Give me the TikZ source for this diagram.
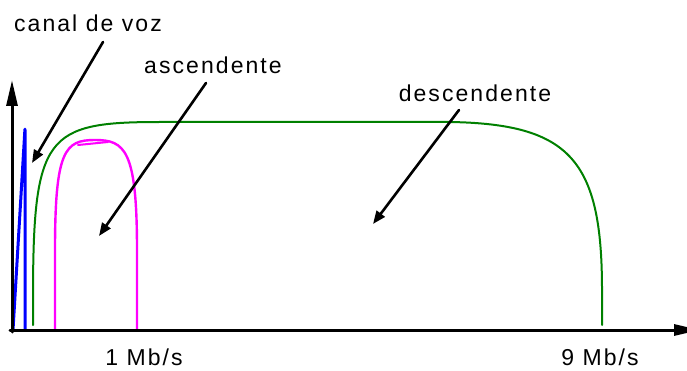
\documentclass[tikz,border=0pt]{standalone}
\usepackage{fontspec}
\setmainfont{Liberation Sans}[LetterSpace=9]
\usetikzlibrary{arrows.meta}
\definecolor{vozblue}{RGB}{0,0,255}
\definecolor{upmag}{RGB}{255,0,255}
\definecolor{downgreen}{RGB}{0,128,0}

\begin{document}
\begin{tikzpicture}[x=1pt, y=-1pt, line cap=round, line join=round,
    font=\fontsize{23}{27}\selectfont,
    lbl/.style={anchor=base, inner sep=0pt},
    axis/.style={line width=3pt, -{Triangle[length=26pt, width=11pt]}},
    pointer/.style={line width=2.6pt, -{Triangle[length=13pt, width=10pt]}}]

  %% ---- page ----
  \useasboundingbox (0,0) rectangle (687,371);

  %% ---- spectra ----
  \draw[vozblue, line width=3pt, rounded corners=2pt]
    (13,330) -- (25,128) -- (25,330);
  \draw[downgreen, line width=2pt]
    (33,325) -- (33,300) .. controls (33,135) and (45,122) .. (160,122)
    -- (450,122) .. controls (570,124) and (602,160) .. (602,290) -- (602,325);
  \draw[upmag, line width=2.4pt]
    (55,330) -- (55,250) .. controls (55,150) and (65,140) .. (95,140)
    .. controls (125,140) and (137,150) .. (137,250) -- (137,330);
  \draw[upmag, line width=2pt] (78,145) -- (108,142);

  %% ---- axes ----
  \draw[axis] (12,332) -- (12,80);
  \draw[axis] (10,330) -- (700,330);

  %% ---- labels ----
  \node[lbl] (voz)  at (88,32)   {canal de voz};
  \node[lbl] (asc)  at (213,74)  {ascendente};
  \node[lbl] (desc) at (475,102) {descendente};
  \node[lbl] (r1)   at (144,365) {1 Mb/s};
  \node[lbl] (r9)   at (600,365) {9 Mb/s};

  %% ---- pointers ----
  \coordinate (vozs)  at (103,42);  \coordinate (vozt)  at (32,163);
  \coordinate (ascs)  at (206,83);  \coordinate (asct)  at (99,236);
  \coordinate (descs) at (459,110); \coordinate (desct) at (373,224);
  \draw[pointer] (vozs)  -- (vozt);
  \draw[pointer] (ascs)  -- (asct);
  \draw[pointer] (descs) -- (desct);

\end{tikzpicture}
\end{document}
